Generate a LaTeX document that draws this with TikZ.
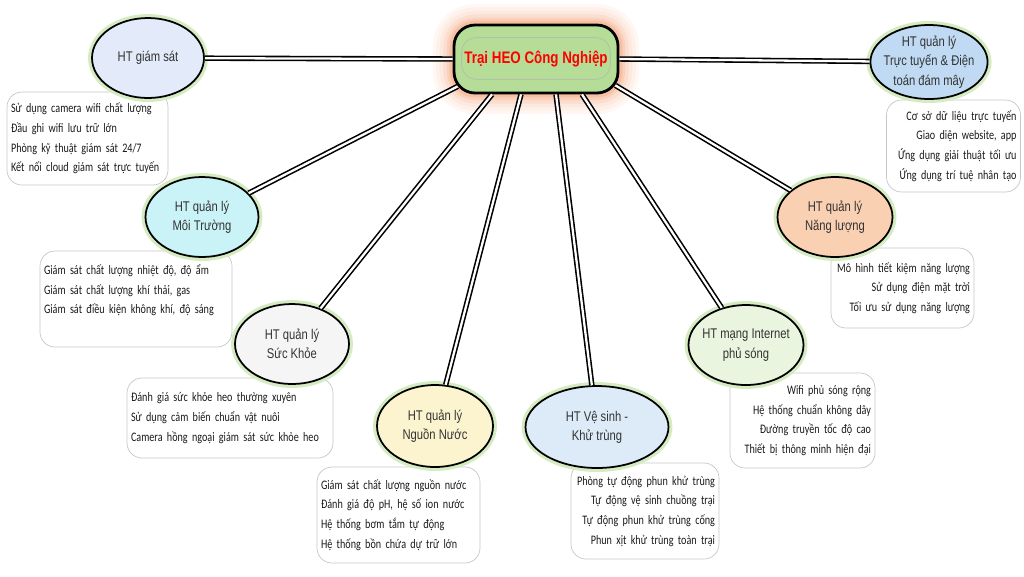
\documentclass[tikz,border=0pt]{standalone}
\usepackage{fontspec}
\usepackage{tikz}
\usetikzlibrary{shapes.geometric}
\newfontfamily\nodeFont[FakeStretch=0.8]{Liberation Sans}
\newfontfamily\listFont[FakeStretch=0.78]{Carlito}
\definecolor{hubGreen}{HTML}{B5DD97}
\definecolor{hubGlow}{HTML}{F6B08C}
\definecolor{ellGlow}{HTML}{D5EBC2}
\definecolor{fillGs}{HTML}{E3EAFA}
\definecolor{fillTt}{HTML}{BFDAF2}
\definecolor{fillMt}{HTML}{C9F3F7}
\definecolor{fillSk}{HTML}{F5F5F5}
\definecolor{fillNn}{HTML}{FCF4CF}
\definecolor{fillVs}{HTML}{DCEBF7}
\definecolor{fillNet}{HTML}{E9F5DE}
\definecolor{fillNl}{HTML}{F9D0B2}
\tikzset{HubBox/.style={%
    shape=rectangle,%
    draw=black,%
    fill=hubGreen,%
    rounded corners=0.42cm,%
    line width=1.6pt,%
    minimum width=3.28cm,%
    minimum height=1.36cm,%
    text=red,%
    font=\nodeFont\bfseries\fontsize{9.5pt}{11pt}\selectfont,%
    preaction={draw=hubGlow!10, line width=24pt},%
    preaction={draw=hubGlow!18, line width=20pt},%
    preaction={draw=hubGlow!28, line width=16pt},%
    preaction={draw=hubGlow!42, line width=12pt},%
    preaction={draw=hubGlow!60, line width=8pt},%
    preaction={draw=hubGlow!80, line width=5pt},%
}}
\tikzset{HubInner/.style={%
    draw=hubGreen!70!black!60,%
    line width=0.5pt,%
    rounded corners=0.3cm,%
}}
\tikzset{SysEllipse/.style={%
    shape=ellipse,%
    draw=black,%
    line width=1pt,%
    minimum width=2.3cm,%
    minimum height=1.6cm,%
    inner sep=-0.08cm,%
    align=center,%
    text=black!80,%
    font=\nodeFont\fontsize{8pt}{11pt}\selectfont,%
    preaction={draw=ellGlow, line width=4.5pt},%
}}
\tikzset{ListBox/.style={%
    shape=rectangle,%
    draw=black!22,%
    rounded corners=0.3cm,%
    inner sep=0.08cm,%
    text=black!90,%
    font=\listFont\fontsize{7.4pt}{11.2pt}\selectfont,%
}}
\tikzset{Spoke/.style={%
    draw=black,%
    double=white,%
    line width=0.9pt,%
    double distance=1.3pt,%
}}

\begin{document}
\begin{tikzpicture}[x=0.02cm, y=-0.02cm]
    \useasboundingbox (0,0) rectangle (1024,576);

    % lists
    \node[ListBox, align=left, text width=3.06cm, minimum height=1.86cm] (gsList) at (87.5,138.5)
        {Sử dụng camera wifi chất lượng\\Đầu ghi wifi lưu trữ lớn\\Phòng kỹ thuật giám sát 24/7\\Kết nối cloud giám sát trực tuyến};
    \node[ListBox, align=right, text width=2.52cm, minimum height=1.84cm] (ttList) at (953.5,146)
        {Cơ sở dữ liệu trực tuyến\\Giao diện website, app\\Ứng dụng giải thuật tối ưu\\Ứng dụng trí tuệ nhân tạo};
    \node[ListBox, align=left, text width=3.68cm, minimum height=1.92cm] (mtList) at (136,299)
        {Giám sát chất lượng nhiệt độ, độ ẩm\\Giám sát chất lượng khí thải, gas\\Giám sát điều kiện không khí, độ sáng\\\mbox{}};
    \node[ListBox, align=left, text width=3.96cm, minimum height=1.6cm] (skList) at (230,418)
        {Đánh giá sức khỏe heo thường xuyên\\Sử dụng cảm biến chuẩn vật nuôi\\Camera hồng ngoại giám sát sức khỏe heo};
    \node[ListBox, align=left, text width=3.1cm, minimum height=1.92cm] (nnList) at (398.5,515)
        {Giám sát chất lượng nguồn nước\\Đánh giá độ pH, hệ số ion nước\\Hệ thống bơm tắm tự động\\Hệ thống bồn chứa dự trữ lớn};
    \node[ListBox, align=right, text width=2.8cm, minimum height=1.92cm] (vsList) at (645,511)
        {Phòng tự động phun khử trùng\\Tự động vệ sinh chuồng trại\\Tự động phun khử trùng cống\\Phun xịt khử trùng toàn trại};
    \node[ListBox, align=right, text width=2.74cm, minimum height=1.9cm] (netList) at (802.5,420.5)
        {Wifi phủ sóng rộng\\Hệ thống chuẩn không dây\\Đường truyền tốc độ cao\\Thiết bị thông minh hiện đại};
    \node[ListBox, align=right, text width=2.7cm, minimum height=1.6cm] (nlList) at (902.5,288)
        {Mô hình tiết kiệm năng lượng\\Sử dụng điện mặt trời\\Tối ưu sử dụng năng lượng};

    % hub
    \node[HubBox] (hub) at (536,59) {Trại HEO Công Nghiệp};
    \draw[HubInner] ([shift={(9,14)}]hub.north west) rectangle ([shift={(-9,-15)}]hub.south east);

    % systems
    \node[SysEllipse, fill=fillGs, minimum width=2.24cm] (gs) at (148,58) {HT giám sát};
    \node[SysEllipse, fill=fillTt, minimum width=2.32cm, minimum height=1.48cm] (tt) at (929,62) {HT quản lý\\Trực tuyến \& Điện\\toán đám mây};
    \node[SysEllipse, fill=fillMt, minimum width=2.26cm] (mt) at (202,217) {HT quản lý\\Môi Trường};
    \node[SysEllipse, fill=fillSk, minimum width=2.28cm] (sk) at (292,344) {HT quản lý\\Sức Khỏe};
    \node[SysEllipse, fill=fillNn, minimum width=2.32cm, minimum height=1.64cm] (nn) at (435,426) {HT quản lý\\Nguồn Nước};
    \node[SysEllipse, fill=fillVs, minimum width=2.86cm, minimum height=1.64cm] (vs) at (597,427) {HT Vệ sinh -\\Khử trùng};
    \node[SysEllipse, fill=fillNet] (net) at (746,345) {HT mạng Internet\\phủ sóng};
    \node[SysEllipse, fill=fillNl] (nl) at (835,217) {HT quản lý\\Năng lượng};

    \path (hub.west) edge[Spoke] (gs);
    \path (hub.east) edge[Spoke] (tt);
    \path ([shift={(5,-8)}]hub.south west) edge[Spoke] (mt);
    \path ([shift={(-44,0)}]hub.south) edge[Spoke] (sk);
    \path ([shift={(-15,0)}]hub.south) edge[Spoke] (nn);
    \path ([shift={(20,0)}]hub.south) edge[Spoke] (vs);
    \path ([shift={(46,0)}]hub.south) edge[Spoke] (net);
    \path ([shift={(-4,-9)}]hub.south east) edge[Spoke] (nl);
\end{tikzpicture}
\end{document}
